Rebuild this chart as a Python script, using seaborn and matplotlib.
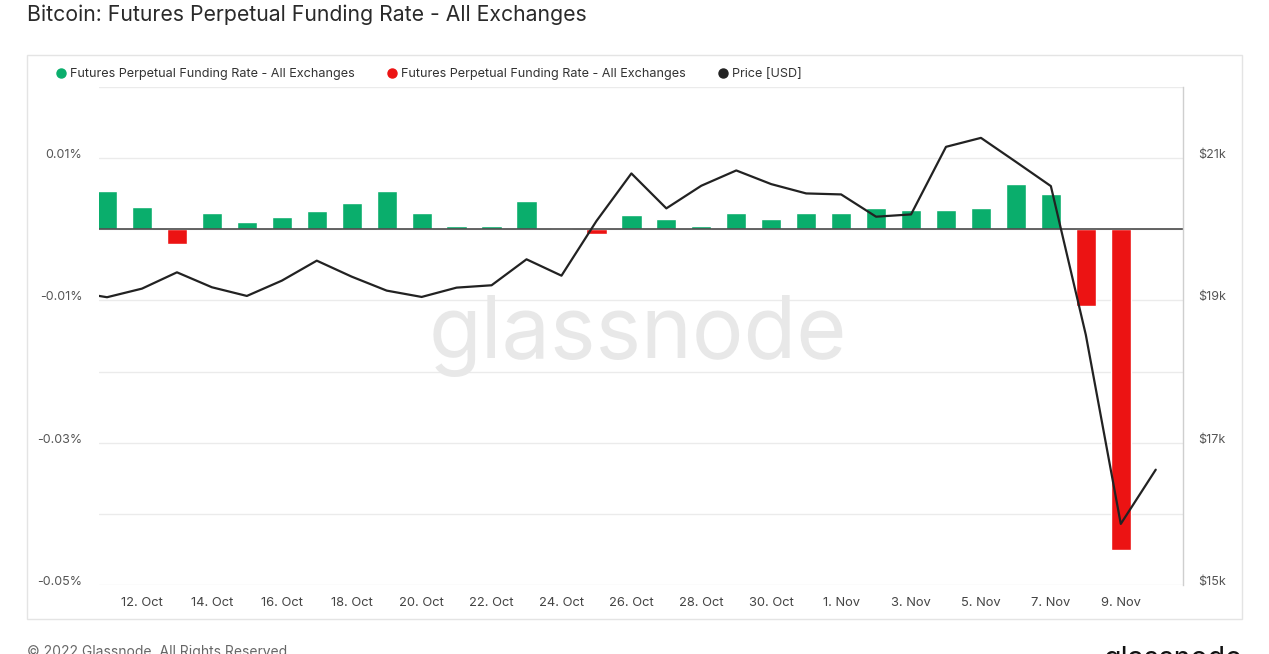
import numpy as np
import pandas as pd
import seaborn as sns
import matplotlib.pyplot as plt
from matplotlib.lines import Line2D
from matplotlib.patches import Rectangle

# funding rate (in %), daily, 11 Oct .. 9 Nov 2022
funding_dates = pd.date_range('2022-10-11', '2022-11-09', freq='D')
funding_rate = [0.00533, 0.00313, -0.00201, 0.00229, 0.00108, 0.00168, 0.00253, 0.00375,
                0.00533, 0.00229, 0.00042, 0.00042, 0.00403, 0.00018, -0.00066, 0.00206,
                0.00145, 0.00050, 0.00225, 0.00145, 0.00225, 0.00225, 0.00299, 0.00267,
                0.00267, 0.00299, 0.00641, 0.00491, -0.0108, -0.0451]

# BTC price (USD), daily, 10 Oct .. 10 Nov 2022
price_dates = pd.date_range('2022-10-10', '2022-11-10', freq='D')
price_usd = [19125, 19045, 19166, 19395, 19185, 19063, 19278, 19559, 19334, 19138,
             19049, 19180, 19213, 19578, 19348, 20116, 20785, 20294, 20612, 20827,
             20635, 20504, 20490, 20177, 20209, 21159, 21285, 20948, 20607, 18516,
             15859, 16621]

tick_dates = pd.date_range('2022-10-12', '2022-11-09', freq='2D')

GREEN = '#0aae6c'
RED = '#ec1313'
t0 = pd.Timestamp('2022-10-11')

fund = pd.DataFrame({'day': [(d - t0).days for d in funding_dates], 'rate': funding_rate})
fund['sign'] = np.where(fund['rate'] >= 0, 'pos', 'neg')
price = pd.DataFrame({'day': [(d - t0).days for d in price_dates], 'price': price_usd})

sns.set_theme(style='white')
plt.rcParams['font.family'] = ['Inter', 'DejaVu Sans']

fig = plt.figure(figsize=(12.69, 6.54), dpi=100)
ax = fig.add_axes([99 / 1269, 1 - 585 / 654, 1084 / 1269, 498 / 654])

# card frame
fig.patches.append(Rectangle((27 / 1269, 1 - 619 / 654), 1215 / 1269, 564 / 654,
                             transform=fig.transFigure, fill=False, edgecolor='#e4e4e4', lw=1))

ax.text(0.497, 0.5, 'glassnode', transform=ax.transAxes, ha='center', va='center',
        fontsize=62, color='#e8e8e8', zorder=1)

sns.barplot(data=fund, x='day', y='rate', hue='sign', palette={'pos': GREEN, 'neg': RED},
            native_scale=True, width=0.58, dodge=False, legend=False, saturation=1, ax=ax,
            zorder=2)
ax.axhline(0, color='#4a4a4a', lw=1.2, zorder=3)

ax.set_xlim(-0.23, 30.78)
ax.set_ylim(-0.05, 0.02)
yt = np.round(np.arange(-0.05, 0.0201, 0.01), 3)
ax.set_yticks(yt)
ax.set_yticklabels([f'{v:.2f}%' if i % 2 == 0 and v < 0.015 else '' for i, v in enumerate(yt)])
ax.yaxis.grid(True, color='#ebebeb', lw=1, zorder=0)
ax.set_axisbelow(True)
ax.set_xticks([(d - t0).days for d in tick_dates])
ax.set_xticklabels([f'{d.day}. {d.strftime("%b")}' for d in tick_dates])
ax.tick_params(axis='y', length=0, pad=12, labelsize=9, labelcolor='#555555')
ax.tick_params(axis='x', length=0, pad=9, labelsize=9.3, labelcolor='#444444')
for lab in ax.get_yticklabels():
    lab.set_va('baseline')
ax.set_xlabel('')
ax.set_ylabel('')
for s in ax.spines.values():
    s.set_visible(False)

ax2 = ax.twinx()
sns.lineplot(data=price, x='day', y='price', color='#222222', lw=1.6, ax=ax2)
ax2.set_ylim(15000, 22000)
ax2.set_yticks([15000, 17000, 19000, 21000])
ax2.set_yticklabels(['$15k', '$17k', '$19k', '$21k'])
ax2.tick_params(axis='y', length=0, pad=11, labelsize=9, labelcolor='#555555')
for lab in ax2.get_yticklabels():
    lab.set_va('baseline')
ax2.set_ylabel('')
ax2.set_xlim(-0.23, 30.78)
for k, s in ax2.spines.items():
    s.set_visible(k == 'right')
ax2.spines['right'].set_color('#cfcfcf')
ax2.spines['right'].set_linewidth(1)

handles = [Line2D([], [], marker='o', ls='', color=GREEN, markersize=6.5),
           Line2D([], [], marker='o', ls='', color=RED, markersize=6.5),
           Line2D([], [], marker='o', ls='', color='#222222', markersize=6.5)]
labels = ['Futures Perpetual Funding Rate - All Exchanges'] * 2 + ['Price [USD]']
fig.legend(handles, labels, loc='center left', bbox_to_anchor=(55 / 1269, 1 - 74 / 654),
           ncol=3, frameon=False, fontsize=9.1, handletextpad=0.2, columnspacing=2.45,
           handlelength=1.0, borderpad=0, borderaxespad=0, labelcolor='#333333')

fig.text(27 / 1269, 1 - 15 / 654, 'Bitcoin: Futures Perpetual Funding Rate - All Exchanges',
         ha='left', va='center', fontsize=15.3, color='#2a2a2a')
fig.text(27 / 1269, 1 - 645 / 654, '© 2022 Glassnode. All Rights Reserved.',
         ha='left', va='top', fontsize=10, color='#666666')
fig.text(1242 / 1269, 1 - 646 / 654, 'glassnode', ha='right', va='top',
         fontsize=20.5, color='#111111')

fig.savefig('out.png', dpi=100)
